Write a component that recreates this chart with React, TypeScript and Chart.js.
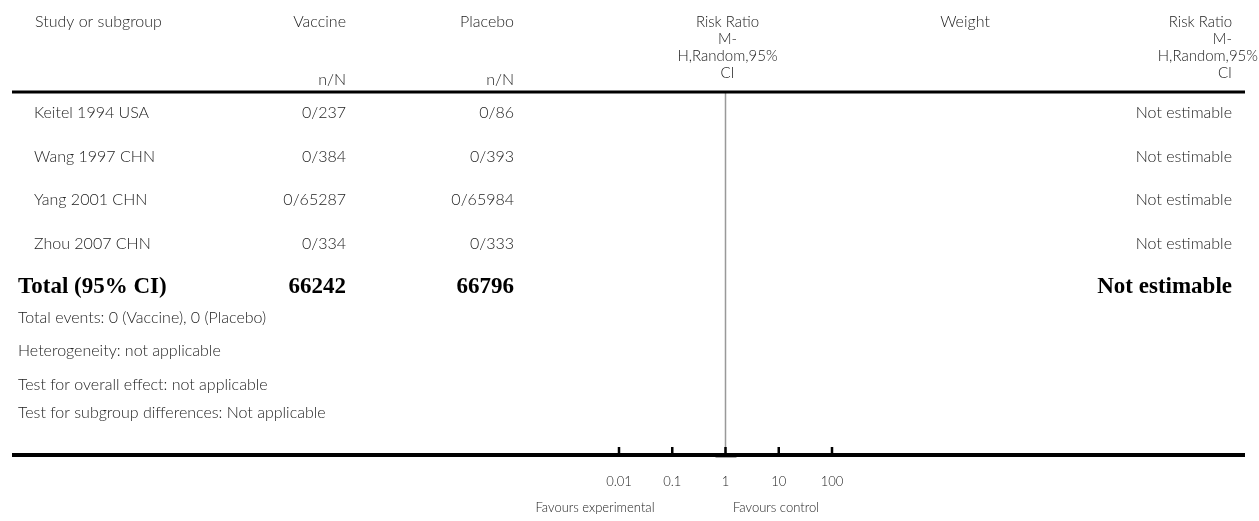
import React, { useEffect, useRef } from "react";
import { Chart, registerables } from "chart.js";

Chart.register(...registerables);

// ---------- data ----------
const studies = ["Keitel 1994 USA", "Wang 1997 CHN", "Yang 2001 CHN", "Zhou 2007 CHN"];
const vaccineEvents = [0, 0, 0, 0];
const vaccineTotals = [237, 384, 65287, 334];
const placeboEvents = [0, 0, 0, 0];
const placeboTotals = [86, 393, 65984, 333];
const effectTexts = ["Not estimable", "Not estimable", "Not estimable", "Not estimable"];
const totalLabel = "Total (95% CI)";
const totalVaccine = 66242;
const totalPlacebo = 66796;
const totalEffect = "Not estimable";
const footnotes = [
  "Total events: 0 (Vaccine), 0 (Placebo)",
  "Heterogeneity: not applicable",
  "Test for overall effect: not applicable",
  "Test for subgroup differences: Not applicable",
];
const axisTicks = [0.01, 0.1, 1, 10, 100];
const axisTickLabels = ["0.01", "0.1", "1", "10", "100"];
const favoursLeft = "Favours experimental";
const favoursRight = "Favours control";
const nullEffect = 1;

// ---------- layout ----------
const W = 1259;
const H = 521;
const SANS = "Lato, 'Noto Sans', sans-serif";
const SERIF = "'Liberation Serif', 'DejaVu Serif', serif";
const TXT = "#222";
const FS = 16;
const headerLineY = 92;
const axisLineY = 455;
const lineLeft = 12;
const lineRight = 1245;
const rowY = [113, 157, 200, 244];
const totalY = 287;
const footY = [318, 351, 385, 413];

const tablePlugin = {
  id: "forestTable",
  afterDraw(chart: any) {
    const ctx = chart.ctx as CanvasRenderingContext2D;
    const xs = chart.scales.x;
    ctx.save();
    ctx.textBaseline = "middle";
    ctx.fillStyle = TXT;
    const text = (s: string, x: number, y: number, align: CanvasTextAlign, font: string) => {
      ctx.font = font;
      ctx.textAlign = align;
      ctx.fillText(s, x, y);
    };
    const f = `300 ${FS}px ${SANS}`;
    const fh = `300 15px ${SANS}`;
    const fs = `300 13px ${SANS}`;
    // header
    text("Study or subgroup", 35, 22, "left", f);
    text("Vaccine", 346, 22, "right", f);
    text("Placebo", 514, 22, "right", f);
    text("n/N", 346, 80, "right", f);
    text("n/N", 514, 80, "right", f);
    const cx = xs.getPixelForValue(nullEffect) + 2;
    text("Risk Ratio", cx, 22, "center", fh);
    text("M-", cx, 39, "center", fh);
    text("H,Random,95%", cx, 56, "center", fh);
    text("CI", cx, 73, "center", fh);
    text("Weight", 965, 22, "center", f);
    text("Risk Ratio", 1232, 22, "right", fh);
    text("M-", 1232, 39, "right", fh);
    text("H,Random,95%", 1258, 56, "right", fh);
    text("CI", 1232, 73, "right", fh);

    // header rule
    ctx.fillStyle = "#000";
    ctx.fillRect(lineLeft, headerLineY - 1.5, lineRight - lineLeft, 3);
    ctx.fillStyle = TXT;

    // rows
    studies.forEach((s, i) => {
      text(s, 34, rowY[i], "left", f);
      text(`${vaccineEvents[i]}/${vaccineTotals[i]}`, 346, rowY[i], "right", f);
      text(`${placeboEvents[i]}/${placeboTotals[i]}`, 514, rowY[i], "right", f);
      text(effectTexts[i], 1232, rowY[i], "right", f);
    });
    const fb = `bold 23px ${SERIF}`;
    ctx.fillStyle = "#000";
    text(totalLabel, 18, totalY, "left", fb);
    text(String(totalVaccine), 346, totalY, "right", fb);
    text(String(totalPlacebo), 514, totalY, "right", fb);
    text(totalEffect, 1232, totalY, "right", fb);
    ctx.fillStyle = TXT;
    footnotes.forEach((s, i) => text(s, 18, footY[i], "left", f));

    // axis
    ctx.fillStyle = "#000";
    ctx.fillRect(lineLeft, axisLineY - 2, lineRight - lineLeft, 4);
    axisTicks.forEach((t, i) => {
      const px = xs.getPixelForValue(t);
      ctx.fillRect(px - 1.25, axisLineY - 8, 2.5, 8);
      ctx.fillStyle = TXT;
      text(axisTickLabels[i], px, 482, "center", fs);
      ctx.fillStyle = "#000";
    });
    // null line mark under the axis
    const p1 = xs.getPixelForValue(nullEffect);
    ctx.fillStyle = "#aaa";
    ctx.fillRect(p1 - 10, axisLineY + 2, 21, 1);
    ctx.fillStyle = TXT;
    text(favoursLeft, 595, 508, "center", fs);
    text(favoursRight, 776, 508, "center", fs);
    ctx.restore();
  },
};

export default function App() {
  const ref = useRef<HTMLCanvasElement | null>(null);
  useEffect(() => {
    document.body.style.margin = "0";
    const canvas = ref.current!;
    const chart = new Chart(canvas, {
      type: "scatter",
      data: {
        datasets: [
          {
            type: "line",
            data: [
              { x: nullEffect, y: 0 },
              { x: nullEffect, y: 1 },
            ],
            borderColor: "#999",
            borderWidth: 1.5,
            pointRadius: 0,
            showLine: true,
          } as any,
        ],
      },
      options: {
        responsive: false,
        animation: false,
        devicePixelRatio: 1,
        layout: {
          padding: { left: 619, right: W - 832, top: headerLineY + 1, bottom: H - axisLineY },
        },
        plugins: { legend: { display: false }, tooltip: { enabled: false } },
        scales: {
          x: { type: "logarithmic", min: 0.01, max: 100, display: false },
          y: { type: "linear", min: 0, max: 1, display: false },
        },
      },
      plugins: [tablePlugin],
    });
    return () => chart.destroy();
  }, []);
  return (
    <div style={{ width: W, height: H, background: "#fff" }}>
      <canvas ref={ref} width={W} height={H} style={{ display: "block", width: W, height: H }} />
    </div>
  );
}
